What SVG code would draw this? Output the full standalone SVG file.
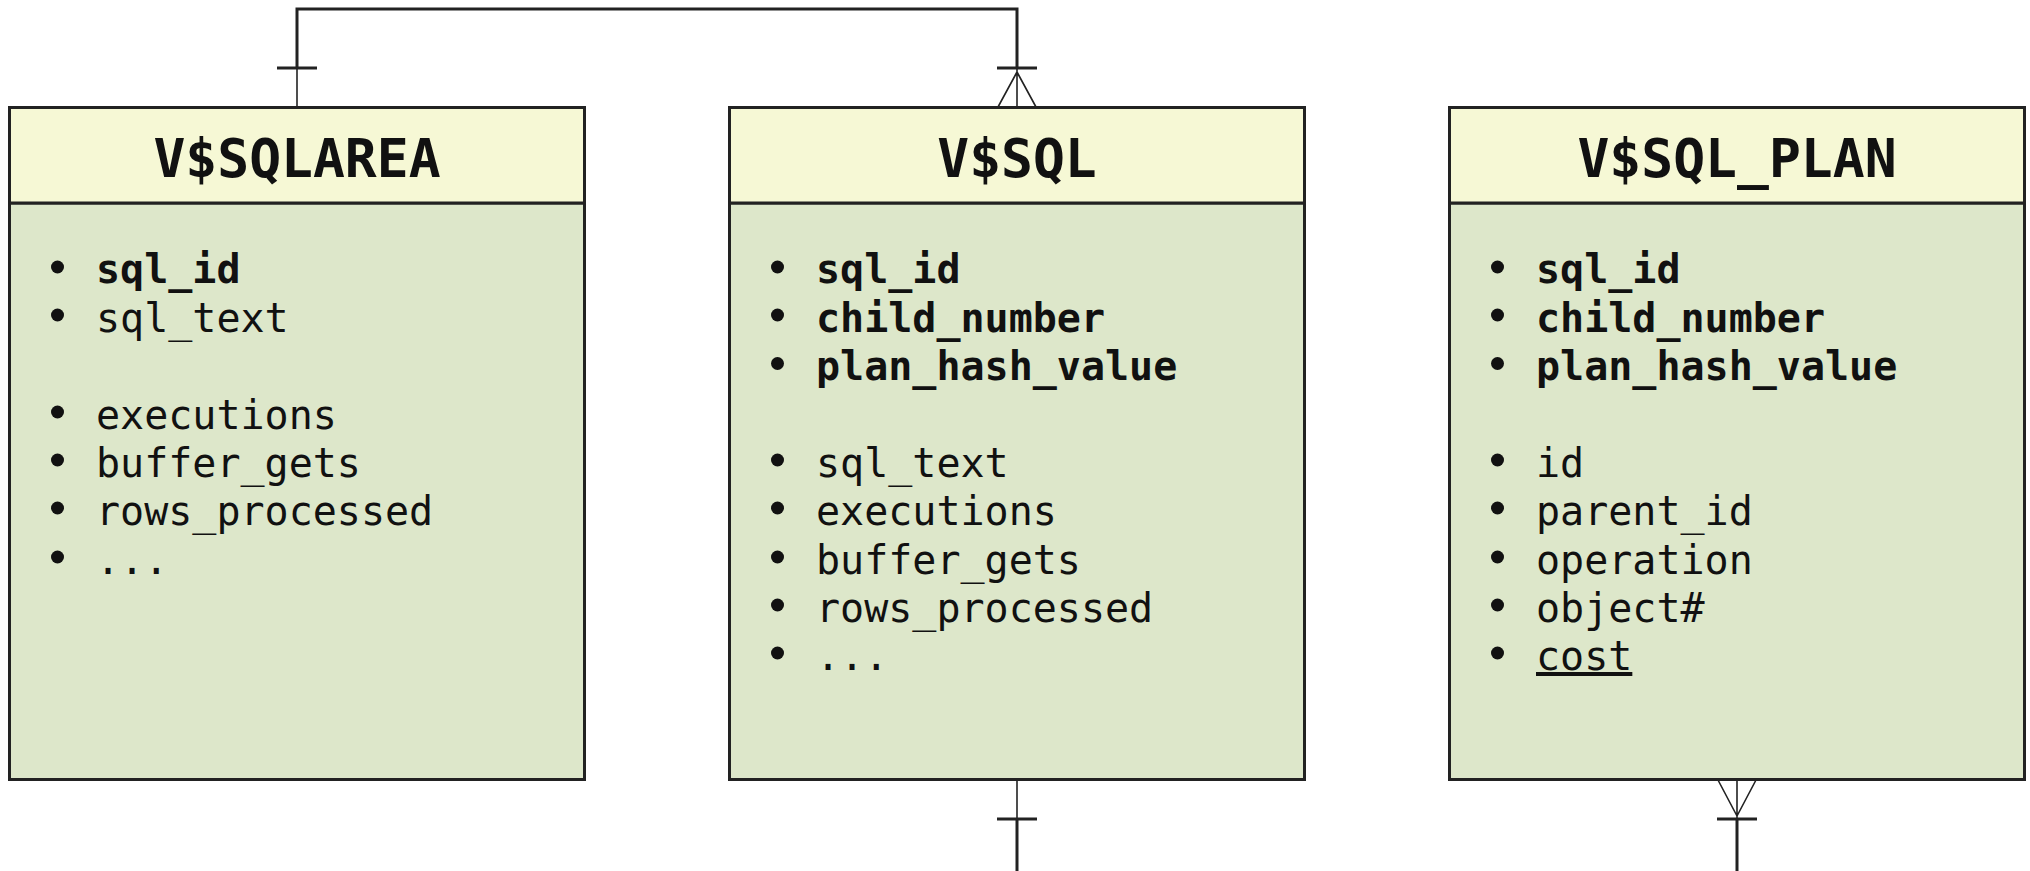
<svg xmlns="http://www.w3.org/2000/svg" width="2030" height="871" viewBox="0 0 2030 871">
<style>
.hdr{fill:#F6F8D5;stroke:#222;stroke-width:3}
.body{fill:#DDE7CA;stroke:#222;stroke-width:3}
.title{font-family:"DejaVu Sans Mono","Liberation Mono",monospace;font-weight:bold;font-size:53px;fill:#111;text-anchor:middle}
.it{font-family:"DejaVu Sans Mono","Liberation Mono",monospace;font-size:40px;fill:#111}
.b{font-weight:bold}
.u{text-decoration:underline}
.dot circle{fill:#111;r:6.5px}
.thick{stroke:#222;stroke-width:3;fill:none}
.thin{stroke:#222;stroke-width:1.6;fill:none}
</style>
<g id="connectors">
<path class="thick" d="M297 68 V9 H1017 V68"/>
<path class="thick" d="M277 68 H317"/>
<path class="thin" d="M297 68 V107"/>
<path class="thick" d="M997 68 H1037"/>
<path class="thin" d="M1017 68 V107 M1017 72 L998 107 M1017 72 L1036 107"/>
<path class="thin" d="M1017 780 V819"/>
<path class="thick" d="M997 819 H1037 M1017 819 V871"/>
<path class="thin" d="M1737 780 V819 M1737 816 L1718 780 M1737 816 L1756 780"/>
<path class="thick" d="M1717 819 H1757 M1737 819 V871"/>
</g>
<g id="vsqlarea">
<rect class="body" x="9.5" y="203" width="575" height="576.5"/>
<rect class="hdr" x="9.5" y="107.5" width="575" height="95.5"/>
<text class="title" x="297" y="177">V$SQLAREA</text>
<g class="dot"><circle cx="57.5" cy="267" r="6.5"/><circle cx="57.5" cy="315" r="6.5"/><circle cx="57.5" cy="412" r="6.5"/><circle cx="57.5" cy="460" r="6.5"/><circle cx="57.5" cy="508" r="6.5"/><circle cx="57.5" cy="557" r="6.5"/></g>
<text class="it b" x="96" y="283">sql_id</text>
<text class="it" x="96" y="331.5">sql_text</text>
<text class="it" x="96" y="428.5">executions</text>
<text class="it" x="96" y="476.5">buffer_gets</text>
<text class="it" x="96" y="525">rows_processed</text>
<text class="it" x="96" y="573.5">...</text>
</g>
<g id="vsql">
<rect class="body" x="729.5" y="203" width="575" height="576.5"/>
<rect class="hdr" x="729.5" y="107.5" width="575" height="95.5"/>
<text class="title" x="1017" y="177">V$SQL</text>
<g class="dot"><circle cx="777.5" cy="267" r="6.5"/><circle cx="777.5" cy="315" r="6.5"/><circle cx="777.5" cy="363.5" r="6.5"/><circle cx="777.5" cy="460" r="6.5"/><circle cx="777.5" cy="508" r="6.5"/><circle cx="777.5" cy="557" r="6.5"/><circle cx="777.5" cy="605" r="6.5"/><circle cx="777.5" cy="653" r="6.5"/></g>
<text class="it b" x="816" y="283">sql_id</text>
<text class="it b" x="816" y="331.5">child_number</text>
<text class="it b" x="816" y="380">plan_hash_value</text>
<text class="it" x="816" y="476.5">sql_text</text>
<text class="it" x="816" y="525">executions</text>
<text class="it" x="816" y="573.5">buffer_gets</text>
<text class="it" x="816" y="621.5">rows_processed</text>
<text class="it" x="816" y="670">...</text>
</g>
<g id="vsql_plan">
<rect class="body" x="1449.5" y="203" width="575" height="576.5"/>
<rect class="hdr" x="1449.5" y="107.5" width="575" height="95.5"/>
<text class="title" x="1737" y="177">V$SQL_PLAN</text>
<g class="dot"><circle cx="1497.5" cy="267" r="6.5"/><circle cx="1497.5" cy="315" r="6.5"/><circle cx="1497.5" cy="363.5" r="6.5"/><circle cx="1497.5" cy="460" r="6.5"/><circle cx="1497.5" cy="508" r="6.5"/><circle cx="1497.5" cy="557" r="6.5"/><circle cx="1497.5" cy="605" r="6.5"/><circle cx="1497.5" cy="653" r="6.5"/></g>
<text class="it b" x="1536" y="283">sql_id</text>
<text class="it b" x="1536" y="331.5">child_number</text>
<text class="it b" x="1536" y="380">plan_hash_value</text>
<text class="it" x="1536" y="476.5">id</text>
<text class="it" x="1536" y="525">parent_id</text>
<text class="it" x="1536" y="573.5">operation</text>
<text class="it" x="1536" y="621.5">object#</text>
<text class="it u" x="1536" y="670">cost</text>
</g>
</svg>
